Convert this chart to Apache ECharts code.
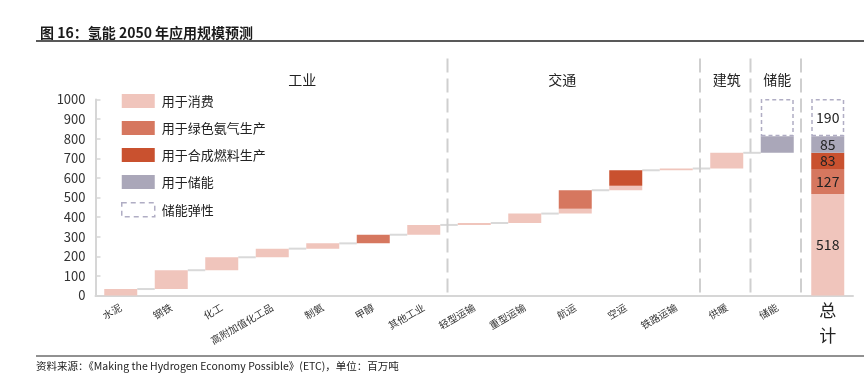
<!DOCTYPE html>
<html>
<head>
<meta charset="utf-8">
<script src="https://cdn.jsdelivr.net/npm/echarts@6/dist/echarts.min.js"></script>
<style>
html,body{margin:0;padding:0;background:#fff;}
#chart{width:864px;height:389px;}
</style>
</head>
<body>
<div id="chart"></div>
<script>
// ---- data ----
const categories = ['水泥','钢铁','化工','高附加值化工品','制氨','甲醇','其他工业','轻型运输','重型运输','航运','空运','铁路运输','供暖','储能','总计'];
const consumption   = [33, 96, 66, 44, 27, 0, 50, 10, 48, 25, 23, 9, 80, 0, 518];
const greenAmmonia  = [0, 0, 0, 0, 0, 44, 0, 0, 0, 94, 0, 0, 0, 0, 127];
const syntheticFuel = [0, 0, 0, 0, 0, 0, 0, 0, 0, 0, 79, 0, 0, 0, 83];
const storage       = [0, 0, 0, 0, 0, 0, 0, 0, 0, 0, 0, 0, 0, 85, 85];
const storageFlex   = [0, 0, 0, 0, 0, 0, 0, 0, 0, 0, 0, 0, 0, 190, 190];
const sectorNames = ['工业','交通','建筑','储能'];
const sectorSizes = [7, 5, 1, 1];
const seriesNames = ['用于消费','用于绿色氨气生产','用于合成燃料生产','用于储能','储能弹性'];
const yMax = 1000, yInterval = 100;

// ---- derived ----
const totalIndex = categories.length - 1;
const base = [], tops = [];
let run = 0;
for (let i = 0; i < categories.length; i++) {
  if (i === totalIndex) { base.push(0); tops.push(0); continue; }
  base.push(run);
  run += consumption[i] + greenAmmonia[i] + syntheticFuel[i] + storage[i];
  tops.push(run);
}
const sectorStarts = [];
let acc = 0;
sectorSizes.forEach(s => { sectorStarts.push(acc); acc += s; });
const boundaries = sectorStarts.slice(1).concat([acc]);

const BAR_W = 33;
const FONT = '"Noto Sans CJK SC","Noto Sans",sans-serif';
const colors = ['#f0c5bc', '#d6775f', '#c9512f', '#aaa7b9', 'rgba(0,0,0,0)'];

function mkData(arr) {
  return arr.map((v, i) => {
    if (!v) return '-';
    return i === totalIndex ? { value: v, label: { show: true } } : v;
  });
}

const chart = echarts.init(document.getElementById('chart'));
const segs = [consumption, greenAmmonia, syntheticFuel, storage, storageFlex];

const barSeries = segs.map((arr, k) => ({
  name: seriesNames[k],
  type: 'bar',
  stack: 'w',
  barWidth: BAR_W,
  data: mkData(arr),
  itemStyle: k === 4
    ? { color: 'rgba(0,0,0,0)', borderColor: '#b0adc4', borderWidth: 1.5, borderType: [4, 3] }
    : { color: colors[k] },
  label: { show: false, position: 'inside', fontSize: 14, color: '#222', fontFamily: FONT,
           formatter: p => p.value },
  emphasis: { disabled: true }
}));

const option = {
  animation: false,
  textStyle: { fontFamily: FONT },
  title: {
    text: '图 16：氢能 2050 年应用规模预测',
    left: 35, top: 21,
    textStyle: { fontSize: 14, fontWeight: 'bold', color: '#1a1a1a', fontFamily: FONT }
  },
  graphic: [
    { type: 'line', shape: { x1: 36, y1: 41, x2: 864, y2: 41 }, style: { stroke: '#222', lineWidth: 1.3 } },
    { type: 'line', shape: { x1: 36, y1: 356, x2: 864, y2: 356 }, style: { stroke: '#222', lineWidth: 1 } },
    { type: 'text', left: 36, top: 361,
      style: { text: '资料来源：《Making the Hydrogen Economy Possible》(ETC)，单位：百万吨', fontSize: 10.5, fill: '#222', fontFamily: FONT } }
  ],
  legend: {
    orient: 'vertical',
    left: 116, top: 89,
    itemWidth: 33, itemHeight: 14, itemGap: 13,
    icon: 'rect',
    selectedMode: false,
    textStyle: { fontSize: 13, color: '#222', fontFamily: FONT, padding: [0, 0, 0, 2] },
    data: seriesNames.map((n, k) => k === 4
      ? { name: n, itemStyle: { color: 'rgba(0,0,0,0)', borderColor: '#b0adc4', borderWidth: 1.5, borderType: [5, 4] } }
      : { name: n, itemStyle: { color: colors[k] } })
  },
  grid: { left: 95.5, right: 11, top: 99.5, height: 196 },
  xAxis: [{
    type: 'category',
    data: categories,
    axisLine: { lineStyle: { color: '#d6d6d6', width: 2 } },
    axisTick: { inside: true, length: 5, lineStyle: { color: '#d6d6d6', width: 1.5 } },
    axisLabel: { interval: 0, rotate: 30, fontSize: 10, color: '#333', margin: 11,
                 formatter: v => v === categories[totalIndex] ? '' : v }
  }, {
    type: 'category',
    data: categories,
    position: 'bottom',
    offset: 0,
    axisLine: { show: false },
    axisTick: { show: false },
    axisLabel: { interval: 0, fontSize: 17, lineHeight: 25, color: '#222', margin: 3,
                 formatter: v => v === categories[totalIndex] ? v.split('').join('\n') : '' }
  }],
  yAxis: {
    type: 'value', min: 0, max: yMax, interval: yInterval,
    axisLine: { show: true, lineStyle: { color: '#d6d6d6', width: 2 } },
    axisTick: { show: true, inside: true, length: 5, lineStyle: { color: '#d6d6d6', width: 1.5 } },
    splitLine: { show: false },
    axisLabel: { fontSize: 13, color: '#333', margin: 10, formatter: v => String(v) }
  },
  series: [
    {
      name: 'base', type: 'bar', stack: 'w', barWidth: BAR_W, silent: true,
      itemStyle: { color: 'rgba(0,0,0,0)' }, data: base, emphasis: { disabled: true }
    },
    ...barSeries,
    {
      name: 'connectors', type: 'custom', silent: true, z: 1,
      data: tops.slice(0, totalIndex - 1).map((v, i) => [i, v]),
      renderItem: (params, api) => {
        const p = api.coord([api.value(0), api.value(1)]);
        const band = api.size([1, 0])[0];
        return { type: 'line',
          shape: { x1: p[0] + BAR_W / 2, y1: p[1], x2: p[0] + band - BAR_W / 2, y2: p[1] },
          style: { stroke: '#d9d9d9', lineWidth: 2 } };
      }
    },
    {
      name: 'separators', type: 'custom', silent: true, z: 3,
      data: boundaries.map(b => [b, 0]),
      renderItem: (params, api) => {
        const p = api.coord([api.value(0), 0]);
        const band = api.size([1, 0])[0];
        const cs = params.coordSys;
        const x = p[0] - band / 2 - 1.5;
        return { type: 'line',
          shape: { x1: x, y1: cs.y - 41, x2: x, y2: cs.y + cs.height },
          style: { stroke: '#cfcfcf', lineWidth: 2, lineDash: [14, 6] } };
      }
    },
    {
      name: 'sectors', type: 'custom', silent: true,
      data: sectorStarts.map((s, i) => [s, sectorSizes[i]]),
      renderItem: (params, api) => {
        const shift = [30, -13, 0, 0][params.dataIndex];
        const p = api.coord([api.value(0), 0]);
        const band = api.size([1, 0])[0];
        const cs = params.coordSys;
        const x = p[0] - band / 2 + api.value(1) * band / 2 + shift;
        return { type: 'text',
          style: { text: sectorNames[params.dataIndex], x: x, y: cs.y - 20,
                   align: 'center', verticalAlign: 'middle',
                   fontSize: 14, fill: '#222', fontFamily: FONT } };
      }
    }
  ]
};
chart.setOption(option);
</script>
</body>
</html>
